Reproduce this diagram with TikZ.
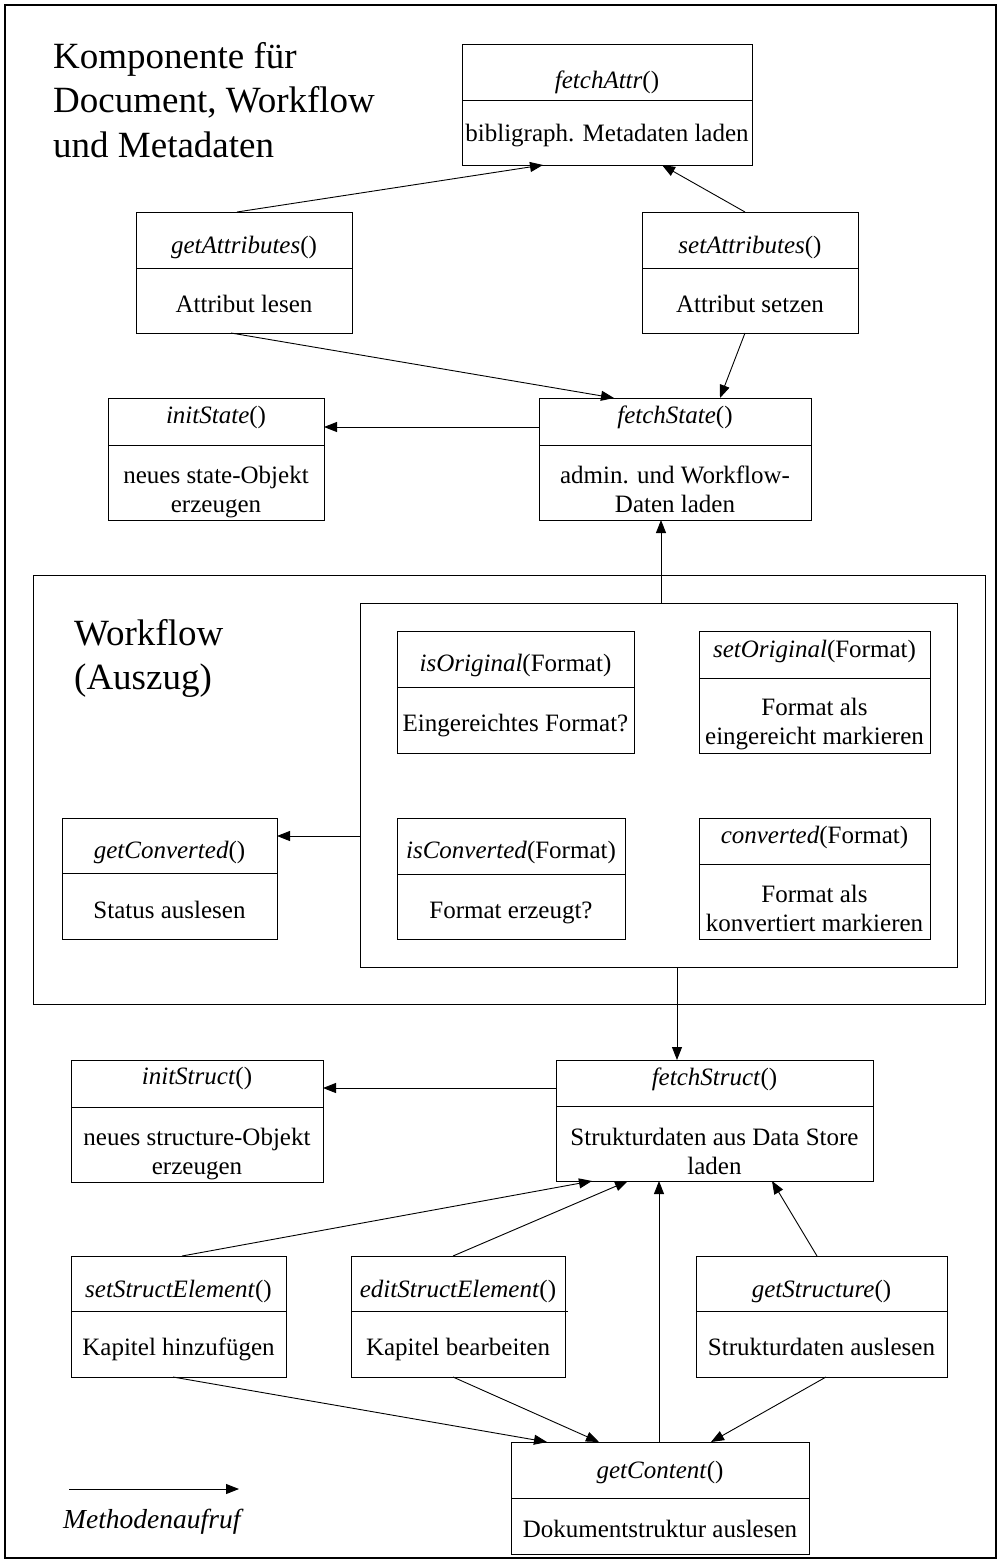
\documentclass[tikz,border=0pt]{standalone}
\usepackage{fontspec}
\setmainfont{Liberation Serif}
\usetikzlibrary{arrows.meta}

\newcommand\opfont{\fontsize{25}{29}\selectfont}
\newcommand\headfont{\fontsize{37}{44.5}\selectfont}
\newcommand\legendfont{\fontsize{27.5}{32}\selectfont}

% class box: name, left, top, right, bottom, divider
\newcommand\umlclass[6]{%
  \node[frame, anchor=north west,
        minimum width={(#4-#2)*1pt}, minimum height={(#5-#3)*1pt}] (#1) at (#2,#3) {};
  \draw[line width=1pt] (#2,#6) -- (#4,#6);
  \def\clsname{#1}\def\clsmid{(#2+#4)/2}}
% texts of the last class box: operation baseline, operation, description baseline, description
\newcommand\umltext[4]{%
  \node[optext] (\clsname-op) at ({\clsmid},#1) {#2};
  \node[optext] (\clsname-do) at ({\clsmid},#3) {\begin{tabular}[t]{@{}c@{}}#4\end{tabular}};}

\begin{document}
\begin{tikzpicture}[x=1pt,y=-1pt,
  frame/.style={draw, line width=1pt, inner sep=0pt, outer sep=0pt},
  call/.style={draw, line width=0.9pt, -{Triangle[length=13pt,width=10pt]}},
  optext/.style={anchor=base, font=\opfont, inner sep=0pt}]

\useasboundingbox (0,0) rectangle (1000,1564);
\fill[white] (0,0) rectangle (1000,1564);
\draw[line width=1.2pt] (5,5) rectangle (996,1558);

% headings
\node[anchor=base west, inner sep=0pt, font=\headfont] (heading) at (53,68)
  {\begin{tabular}[t]{@{}l@{}}Komponente für\\Document, Workflow\\und Metadaten\end{tabular}};

% attribute and state classes
\umlclass{fetchAttr}{462}{44}{752}{165}{100}
\umltext{88}{\textit{fetchAttr}()}{141}{bibligraph. Metadaten laden}
\umlclass{getAttr}{136}{212}{352}{333}{268}
\umltext{253}{\textit{getAttributes}()}{312}{Attribut lesen}
\umlclass{setAttr}{642}{212}{858}{333}{268}
\umltext{253}{\textit{setAttributes}()}{312}{Attribut setzen}
\umlclass{initState}{108}{398}{324}{520}{445}
\umltext{423}{\textit{initState}()}{483}{neues state-Objekt\\erzeugen}
\umlclass{fetchState}{539}{398}{811}{520}{445}
\umltext{423}{\textit{fetchState}()}{483}{admin. und Workflow-\\Daten laden}

% workflow package
\node[frame, anchor=north west, minimum width=952pt, minimum height=429pt] (workflow) at (33,575) {};
\node[anchor=base west, inner sep=0pt, font=\headfont] (wflabel) at (74,645)
  {\begin{tabular}[t]{@{}l@{}}Workflow\\(Auszug)\end{tabular}};
\node[frame, anchor=north west, minimum width=597pt, minimum height=364pt] (inner) at (360,603) {};

\umlclass{isOriginal}{397}{631}{634}{753}{687}
\umltext{671}{\textit{isOriginal}(Format)}{731}{Eingereichtes Format?}
\umlclass{setOriginal}{699}{631}{930}{753}{678}
\umltext{657}{\textit{setOriginal}(Format)}{715}{Format als\\eingereicht markieren}
\umlclass{getConverted}{62}{818}{277}{939}{873}
\umltext{858}{\textit{getConverted}()}{918}{Status auslesen}
\umlclass{isConverted}{397}{818}{625}{939}{874}
\umltext{858}{\textit{isConverted}(Format)}{918}{Format erzeugt?}
\umlclass{converted}{699}{818}{930}{939}{864}
\umltext{843}{\textit{converted}(Format)}{902}{Format als\\konvertiert markieren}

% structure classes
\umlclass{initStruct}{71}{1060}{323}{1182}{1107}
\umltext{1084}{\textit{initStruct}()}{1145}{neues structure-Objekt\\erzeugen}
\umlclass{fetchStruct}{556}{1060}{873}{1181}{1106}
\umltext{1085}{\textit{fetchStruct}()}{1145}{Strukturdaten aus Data Store\\laden}
\umlclass{setStruct}{71}{1256}{286}{1377}{1311}
\umltext{1297}{\textit{setStructElement}()}{1355}{Kapitel hinzufügen}
\umlclass{editStruct}{351}{1256}{565}{1377}{1311}
\umltext{1297}{\textit{editStructElement}()}{1355}{Kapitel bearbeiten}
% the divider of this box runs a little past its right edge
\draw[line width=1pt] (editStruct.east |- 0,1311) -- (568,1311);
\umlclass{getStructure}{696}{1256}{947}{1377}{1311}
\umltext{1297}{\textit{getStructure}()}{1355}{Strukturdaten auslesen}
\umlclass{getContent}{511}{1442}{809}{1554}{1498}
\umltext{1478}{\textit{getContent}()}{1537}{Dokumentstruktur auslesen}

% method calls
\draw[call] ([xshift=101pt]getAttr.north west) -- ([xshift=81pt]fetchAttr.south west);
\draw[call] ([xshift=103pt]setAttr.north west) -- ([xshift=200pt]fetchAttr.south west);
\draw[call] ([xshift=95pt]getAttr.south west) -- ([xshift=75pt]fetchState.north west);
\draw[call] ([xshift=103pt]setAttr.south west) -- ([xshift=181pt]fetchState.north west);
\draw[call] ([yshift=-29pt]fetchState.north west) -- ([yshift=-29pt]initState.north east);
\draw[call] ([xshift=301pt]inner.north west) -- ([xshift=122pt]fetchState.south west);
\draw[call] ([yshift=-233pt]inner.north west) -- ([yshift=-18pt]getConverted.north east);
\draw[call] ([xshift=317pt]inner.south west) -- ([xshift=121pt]fetchStruct.north west);
\draw[call] ([yshift=-28pt]fetchStruct.north west) -- ([yshift=-28pt]initStruct.north east);
\draw[call] ([xshift=111pt]setStruct.north west) -- ([xshift=36pt]fetchStruct.south west);
\draw[call] ([xshift=102pt]editStruct.north west) -- ([xshift=72pt]fetchStruct.south west);
\draw[call] ([xshift=148pt]getContent.north west) -- ([xshift=103pt]fetchStruct.south west);
\draw[call] ([xshift=121pt]getStructure.north west) -- ([xshift=216pt]fetchStruct.south west);
\draw[call] ([xshift=102pt]setStruct.south west) -- ([xshift=36pt]getContent.north west);
\draw[call] ([xshift=102pt]editStruct.south west) -- ([xshift=88pt]getContent.north west);
\draw[call] ([xshift=130pt]getStructure.south west) -- ([xshift=200pt]getContent.north west);

% legend
\coordinate (legA) at (69,1489);
\coordinate (legB) at (239,1489);
\draw[call] (legA) -- (legB);
\node[anchor=base west, inner sep=0pt, font=\legendfont\itshape] (legend) at (63,1528) {Methodenaufruf};

\end{tikzpicture}
\end{document}
